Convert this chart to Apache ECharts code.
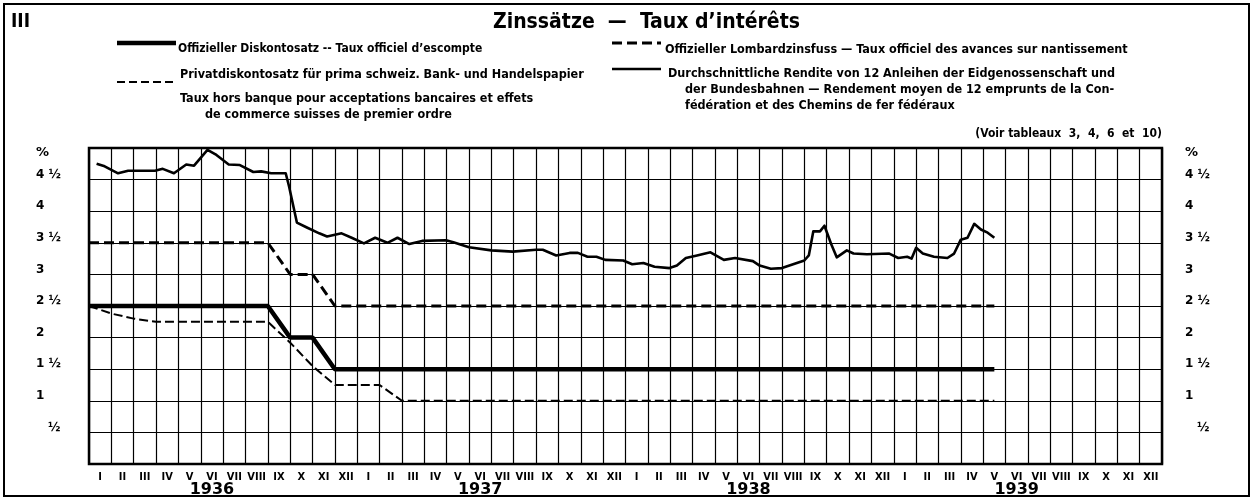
<!DOCTYPE html>
<html lang="de">
<head>
    <meta charset="UTF-8">
    <title>Zinssätze — Taux d'intérêts</title>
    <script src="https://cdn.jsdelivr.net/npm/echarts@6/dist/echarts.min.js"></script>
    <style>
        html, body { margin: 0; padding: 0; background: #fff; }
        #chart { width: 1254px; height: 498px; }
    </style>
</head>
<body>
    <div id="chart"></div>
    <script>
        // months counted from start of Jan 1936 (0) to end of Dec 1939 (48)
        const monthLabels = ['I', 'II', 'III', 'IV', 'V', 'VI', 'VII', 'VIII', 'IX', 'X', 'XI', 'XII'];
        const years = ['1936', '1937', '1938', '1939'];

        const yTickValues = [0.5, 1, 1.5, 2, 2.5, 3, 3.5, 4, 4.5, 5];
        const yTickLabels = ['½', '1', '1 ½', '2', '2 ½', '3', '3 ½', '4', '4 ½', '%'];

        // Offizieller Diskontosatz
        const diskontMonth = [0, 8, 9, 10, 11, 40.5];
        const diskontValue = [2.5, 2.5, 2, 2, 1.5, 1.5];

        // Offizieller Lombardzinsfuss
        const lombardMonth = [0, 8, 9, 10, 11, 40.5];
        const lombardValue = [3.5, 3.5, 3, 3, 2.5, 2.5];

        // Privatdiskontosatz
        const privatMonth = [0, 1, 2, 3, 8, 9, 10, 11, 13, 14, 40.5];
        const privatValue = [2.5, 2.38, 2.3, 2.25, 2.25, 1.92, 1.55, 1.25, 1.25, 1.0, 1.0];

        // Durchschnittliche Rendite
        const renditeMonth = [0.34, 0.7, 1.3, 1.75, 2.2, 2.95, 3.3, 3.8, 4.35, 4.7, 5.3, 5.7, 6.25, 6.75, 7.35, 7.7,
            8.15, 8.8, 8.95, 9.3, 9.7, 10.3, 10.65, 11.3, 11.75, 12.3, 12.8, 13.35, 13.8, 14.33, 14.9, 15.97,
            16.3, 17, 18, 18.95, 20, 20.3, 20.9, 21.5, 21.87, 22.3, 22.7, 23.1, 23.9, 24.3, 24.8, 25.3,
            25.97, 26.3, 26.7, 27.2, 27.8, 28.4, 28.9, 29.7, 30.0, 30.5, 31, 31.5, 32, 32.2,
            32.4, 32.7, 32.9, 33.2, 33.45, 33.9, 34.2, 34.8, 35.8, 36.2, 36.6, 36.8, 37.0, 37.3,
            37.8, 38.4, 38.7, 39.0, 39.3, 39.6, 39.9, 40.2, 40.5];
        const renditeValue = [4.75, 4.71, 4.6, 4.64, 4.64, 4.64, 4.67, 4.6, 4.74, 4.72, 4.97, 4.89, 4.74, 4.73, 4.62, 4.63,
            4.6, 4.6, 4.39, 3.82, 3.75, 3.65, 3.6, 3.65, 3.58, 3.49, 3.58, 3.5, 3.58, 3.48, 3.53, 3.54,
            3.51, 3.43, 3.38, 3.36, 3.39, 3.39, 3.3, 3.34, 3.34, 3.28, 3.28, 3.23, 3.22, 3.16, 3.18, 3.12,
            3.1, 3.14, 3.26, 3.3, 3.35, 3.23, 3.26, 3.21, 3.14, 3.09, 3.1, 3.16, 3.22, 3.3,
            3.68, 3.68, 3.77, 3.48, 3.27, 3.38, 3.33, 3.32, 3.33, 3.26, 3.28, 3.25, 3.42, 3.33,
            3.28, 3.26, 3.33, 3.55, 3.58, 3.8, 3.71, 3.66, 3.58];

        const pairs = (xs, ys) => xs.map((x, i) => [x, ys[i]]);

        const allMonths = [];
        const yearRow = [];
        years.forEach(y => {
            monthLabels.forEach((m, i) => {
                allMonths.push(m);
                yearRow.push(i === 5 ? y : '');
            });
        });

        const narrow = "'Liberation Sans Narrow', 'DejaVu Sans Condensed', sans-serif";
        const tickFont = "'DejaVu Sans', sans-serif";

        function yLabel(v) {
            const i = yTickValues.indexOf(v);
            if (i < 0) return '';
            const t = yTickLabels[i];
            if (t === '%') return '{p|%}';
            if (t === '½') return '{h|½}';
            return '{a|' + t + '}';
        }
        const yRich = {
            a: { fontFamily: tickFont, fontWeight: 'bold', fontSize: 12, color: '#000', padding: [0, 0, 10, 0] },
            h: { fontFamily: tickFont, fontWeight: 'bold', fontSize: 12, color: '#000', padding: [0, 0, 10, 12] },
            p: { fontFamily: tickFont, fontWeight: 'bold', fontSize: 13, color: '#000', padding: [10, 0, 0, 0] }
        };

        const legendText = (x, y, text, size) => ({
            type: 'text', left: x, top: y,
            style: { text, font: `bold ${size || 12.5}px ${narrow}`, fill: '#000', textVerticalAlign: 'middle' }
        });
        const legendLine = (x1, x2, y, width, dash) => ({
            type: 'line',
            shape: { x1, y1: y, x2, y2: y },
            style: { stroke: '#000', lineWidth: width, lineDash: dash || null }
        });

        const chart = echarts.init(document.getElementById('chart'), null, { renderer: 'canvas' });
        chart.setOption({
            animation: false,
            backgroundColor: '#fff',
            grid: {
                left: 89, right: 92, top: 148, bottom: 33,
                show: true, borderColor: '#000', borderWidth: 2.5, backgroundColor: 'transparent'
            },
            xAxis: [
                {
                    type: 'value', min: 0, max: 48, interval: 1,
                    axisLine: { show: false }, axisTick: { show: false }, axisLabel: { show: false },
                    splitLine: { show: true, lineStyle: { color: '#000', width: 1.2 } }
                },
                {
                    type: 'category', data: allMonths, boundaryGap: true, position: 'bottom',
                    axisLine: { show: false }, axisTick: { show: false }, splitLine: { show: false },
                    axisLabel: { interval: 0, margin: 8, fontFamily: narrow, fontWeight: 'bold', fontSize: 11, color: '#000' }
                },
                {
                    type: 'category', data: yearRow, boundaryGap: true, position: 'bottom',
                    axisLine: { show: false }, axisTick: { show: false }, splitLine: { show: false },
                    axisLabel: { interval: 0, margin: 18, fontFamily: tickFont, fontWeight: 'bold', fontSize: 16, color: '#000' }
                }
            ],
            yAxis: [
                {
                    type: 'value', min: 0, max: 5, interval: 0.5, position: 'left',
                    axisLine: { show: false }, axisTick: { show: false },
                    splitLine: { show: true, lineStyle: { color: '#000', width: 1.2 } },
                    axisLabel: { formatter: yLabel, rich: yRich, align: 'left', margin: 53, showMaxLabel: true }
                },
                {
                    type: 'value', min: 0, max: 5, interval: 0.5, position: 'right',
                    axisLine: { show: false }, axisTick: { show: false }, splitLine: { show: false },
                    axisLabel: { formatter: yLabel, rich: yRich, align: 'left', margin: 23, showMaxLabel: true }
                }
            ],
            series: [
                {
                    name: 'Offizieller Lombardzinsfuss', type: 'line', xAxisIndex: 0, yAxisIndex: 0,
                    data: pairs(lombardMonth, lombardValue), showSymbol: false,
                    lineStyle: { color: '#000', width: 3, type: [10, 5] }
                },
                {
                    name: 'Privatdiskontosatz', type: 'line', xAxisIndex: 0, yAxisIndex: 0,
                    data: pairs(privatMonth, privatValue), showSymbol: false,
                    lineStyle: { color: '#000', width: 2, type: [9, 4] }
                },
                {
                    name: 'Offizieller Diskontosatz', type: 'line', xAxisIndex: 0, yAxisIndex: 0,
                    data: pairs(diskontMonth, diskontValue), showSymbol: false,
                    lineStyle: { color: '#000', width: 4.5 }
                },
                {
                    name: 'Durchschnittliche Rendite', type: 'line', xAxisIndex: 0, yAxisIndex: 0,
                    data: pairs(renditeMonth, renditeValue), showSymbol: false,
                    lineStyle: { color: '#000', width: 2.6, join: 'round' }
                }
            ],
            graphic: [
                {
                    type: 'rect', shape: { x: 4, y: 4, width: 1245, height: 492 },
                    style: { fill: null, stroke: '#000', lineWidth: 2 }
                },
                {
                    type: 'text', left: 11, top: 13,
                    style: { text: 'III', font: `bold 19px ${narrow}`, fill: '#000' }
                },
                {
                    type: 'text', left: 493, top: 12,
                    style: { text: 'Zinssätze  —  Taux d\u2019intérêts', font: `bold 21px ${narrow}`, fill: '#000' }
                },
                legendLine(117, 176, 43, 4.5),
                legendText(178, 43, 'Offizieller Diskontosatz -- Taux officiel d\u2019escompte', 12),
                legendText(180, 68, 'Privatdiskontosatz für prima schweiz. Bank- und Handelspapier'),
                legendLine(117, 176, 82, 2, [8, 4]),
                legendText(180, 92, 'Taux hors banque pour acceptations bancaires et effets'),
                legendText(205, 108, 'de commerce suisses de premier ordre'),
                legendLine(612, 661, 43, 3, [10, 5]),
                legendText(665, 43, 'Offizieller Lombardzinsfuss — Taux officiel des avances sur nantissement'),
                legendLine(612, 661, 69, 2.4),
                legendText(668, 67, 'Durchschnittliche Rendite von 12 Anleihen der Eidgenossenschaft und'),
                legendText(685, 83, 'der Bundesbahnen — Rendement moyen de 12 emprunts de la Con-'),
                legendText(685, 99, 'fédération et des Chemins de fer fédéraux'),
                {
                    type: 'text', right: 92, top: 128,
                    style: { text: '(Voir tableaux  3,  4,  6  et  10)', font: `bold 12px ${narrow}`, fill: '#000' }
                }
            ]
        });
    </script>
</body>
</html>
